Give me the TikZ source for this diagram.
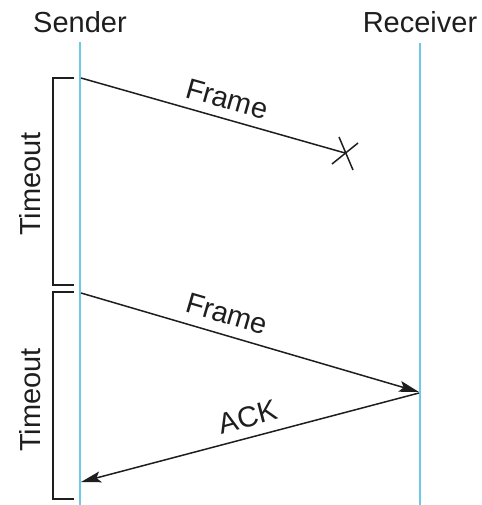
\documentclass[tikz,border=0pt]{standalone}
\usepackage{fontspec}
\setmainfont{Liberation Sans}
\usetikzlibrary{arrows.meta}
\definecolor{lifeblue}{RGB}{110,200,230}
\definecolor{ink}{RGB}{30,30,30}
\tikzset{
  lbl/.style={font=\fontsize{29}{33}\selectfont, text=ink, inner sep=0pt},
  life/.style={draw=lifeblue, line width=1.5pt},
  msg/.style={draw=ink, line width=1.5pt, -{Stealth[length=20pt,width=11pt,inset=4pt]}},
  lost/.style={draw=ink, line width=1.5pt},
  brk/.style={draw=ink, line width=1.5pt},
}
\begin{document}
\begin{tikzpicture}[x=1pt,y=-1pt]
\useasboundingbox (0,0) rectangle (481,505);
% participants
\node[lbl] (snd) at (80,22) {Sender};
\node[lbl] (rcv) at (420,22) {Receiver};
\coordinate (sTop) at (80,42);
\coordinate (sBot) at (80,505);
\coordinate (rTop) at (420,43);
\coordinate (rBot) at (420,505);
\draw[life] (sTop) -- (sBot);
\draw[life] (rTop) -- (rBot);
% lost frame
\coordinate (f1s) at (81,78);
\coordinate (f1e) at (345,153);
\draw[lost] (f1s) -- (f1e);
\coordinate (x1a) at (339,137);
\coordinate (x1b) at (353,170);
\coordinate (x2a) at (332,164);
\coordinate (x2b) at (358,143);
\draw[lost] (x1a) -- (x1b);
\draw[lost] (x2a) -- (x2b);
\node[lbl, rotate=-15.8] (fr1) at (227,99) {Frame};
% second frame
\coordinate (f2s) at (81,293);
\coordinate (f2e) at (419,392);
\draw[msg] (f2s) -- (f2e);
\node[lbl, rotate=-16.3] (fr2) at (227,314) {Frame};
% ack
\coordinate (as) at (419,393);
\coordinate (ae) at (81,482);
\draw[msg] (as) -- (ae);
\node[lbl, rotate=14.8] (ack) at (248,417) {ACK};
% timeout brackets
\coordinate (b1t) at (74,78);
\coordinate (b1b) at (74,285);
\draw[brk] (b1t) -| (53,285) -- (b1b);
\coordinate (b2t) at (74,292);
\coordinate (b2b) at (74,499);
\draw[brk] (b2t) -| (53,499) -- (b2b);
\node[lbl, rotate=90] (to1) at (30,184) {Timeout};
\node[lbl, rotate=90] (to2) at (30,400) {Timeout};
\end{tikzpicture}
\end{document}
